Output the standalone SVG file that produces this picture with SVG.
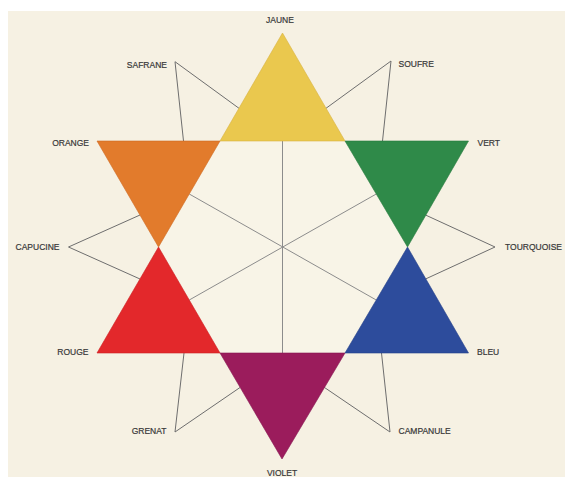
<svg xmlns="http://www.w3.org/2000/svg" width="565" height="477" viewBox="0 0 565 477">
<style>
.lbl{font-family:"Liberation Sans",Arial,sans-serif;font-size:8.5px;fill:#383838;stroke:#383838;stroke-width:0.2}
.ln{fill:none;stroke:#6e6e6e;stroke-width:1;stroke-linejoin:miter}
.hl{fill:none;stroke:#8c8c8c;stroke-width:1}
.tri{stroke-width:0.6;stroke-linejoin:miter}
</style>
<rect x="0" y="0" width="565" height="477" fill="#ffffff"/>
<rect x="8" y="11" width="557" height="466" fill="#f6f1e3"/>
<g id="hexagon-lines">
<polygon points="220,141 345,141 407.5,247 345,353 220,353 158.5,247" fill="#f8f4e7"/>
<line class="hl" x1="282.5" y1="141" x2="282.5" y2="353"/>
<line class="hl" x1="189.25" y1="194" x2="376.25" y2="300"/>
<line class="hl" x1="376.25" y1="194" x2="189.25" y2="300"/>
</g>
<g id="connectors">
<polyline class="ln" points="239,108.3 175,61.7 183.5,141"/>
<polyline class="ln" points="326,108.3 391,61 382.5,141"/>
<polyline class="ln" points="140,215 68.5,247 140,279"/>
<polyline class="ln" points="425.5,215 495,247 425.5,279"/>
<polyline class="ln" points="184,353 175,432 240,387.5"/>
<polyline class="ln" points="381.5,353 390,432 324.5,387.5"/>
</g>
<g id="jaune">
<polygon class="tri" points="282.5,33 345,141 220,141" fill="#eac84e" stroke="#d9b240"/>
<text class="lbl" x="280" y="23" text-anchor="middle">JAUNE</text>
</g>
<g id="orange">
<polygon class="tri" points="97,141 220,141 158.5,247" fill="#e27b2c" stroke="#cf6a22"/>
<text class="lbl" x="89" y="146" text-anchor="end">ORANGE</text>
</g>
<g id="vert">
<polygon class="tri" points="345,141 468.5,141 407.5,247" fill="#2f8a49" stroke="#267a3e"/>
<text class="lbl" x="477.5" y="146">VERT</text>
</g>
<g id="rouge">
<polygon class="tri" points="158.5,247 220,353 97,353" fill="#e3282b" stroke="#cc1f22"/>
<text class="lbl" x="88.5" y="354.5" text-anchor="end">ROUGE</text>
</g>
<g id="bleu">
<polygon class="tri" points="407.5,247 468.5,353 345,353" fill="#2d4c9c" stroke="#24408a"/>
<text class="lbl" x="477" y="354.5">BLEU</text>
</g>
<g id="violet">
<polygon class="tri" points="220,353 345,353 282,459" fill="#9b1c5c" stroke="#871550"/>
<text class="lbl" x="282" y="476" text-anchor="middle">VIOLET</text>
</g>
<g id="safrane">
<text class="lbl" x="167" y="67.5" text-anchor="end">SAFRANE</text>
</g>
<g id="soufre">
<text class="lbl" x="398.5" y="66.5">SOUFRE</text>
</g>
<g id="capucine">
<text class="lbl" x="59.5" y="250" text-anchor="end">CAPUCINE</text>
</g>
<g id="tourquoise">
<text class="lbl" x="505" y="250">TOURQUOISE</text>
</g>
<g id="grenat">
<text class="lbl" x="166.5" y="434" text-anchor="end">GRENAT</text>
</g>
<g id="campanule">
<text class="lbl" x="398.5" y="434">CAMPANULE</text>
</g>
</svg>
